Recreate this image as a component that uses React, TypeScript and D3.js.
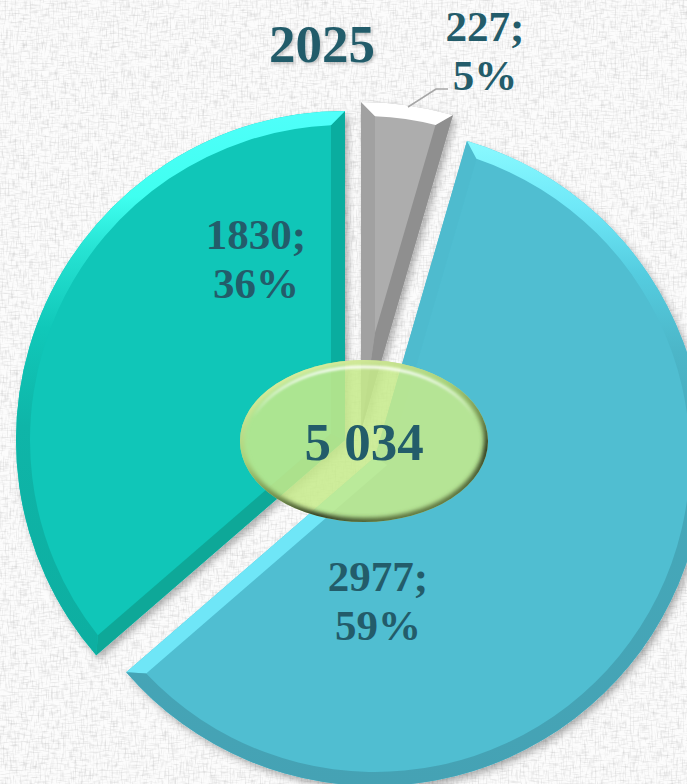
import React from "react";
import * as d3 from "d3";

const W = 687;
const H = 784;
const categories = ["gray", "blue", "teal"];
const values = [227, 2977, 1830];
const percents = ["5%", "59%", "36%"];
const title = "2025";
const total = "5 034";

const R = 329;
const BEVEL = 14;
const apexes = [[361, 431], [375, 457], [345, 440]];
const labelPos = [[485, 41], [378, 591], [256, 249]];
const LINE = 49;
const INK = "#235c6a";

const styles: Record<string, { face: string; start: string; end: string; rim: [number, string][] }> = {
  gray: { face: "#adadad", start: "#a1a1a1", end: "#8f8f8f", rim: [[0, "#ffffff"], [1, "#ffffff"]] },
  blue: {
    face: "#50bed1",
    start: "#4ebbce",
    end: "#6fe6f7",
    rim: [[0.02, "#8afaff"], [0.12, "#6fe8f8"], [0.22, "#55cde0"], [0.34, "#4cb6c8"], [0.5, "#45a9ba"], [1, "#45a2b4"]],
  },
  teal: {
    face: "#10c6b8",
    start: "#0ea898",
    end: "#0aad9f",
    rim: [[0, "#4ffffa"], [0.13, "#3ffff0"], [0.21, "#26e3d3"], [0.33, "#10c8b9"], [0.48, "#0fb5a8"], [1, "#0cab9d"]],
  },
};

const pie = d3.pie<number>().sort(null).startAngle(0).endAngle(2 * Math.PI);
const slices = pie(values);

function App() {
  const shapes = slices.map((s, i) => {
    const [cx, cy] = apexes[i];
    const pt = (r: number, a: number): [number, number] => [cx + r * Math.sin(a), cy - r * Math.cos(a)];
    const a0 = s.startAngle;
    const a1 = s.endAngle;
    const span = a1 - a0;
    const mid = (a0 + a1) / 2;
    const ri = R - BEVEL;
    const da = Math.asin(BEVEL / ri);
    const f0 = a0 + da;
    const f1 = a1 - da;
    const ins = pt(BEVEL / Math.sin(span / 2), mid);
    const poly = (ps: [number, number][]) => {
      const p = d3.path();
      ps.forEach((q, k) => (k ? p.lineTo(q[0], q[1]) : p.moveTo(q[0], q[1])));
      p.closePath();
      return p.toString();
    };
    const wedge = d3.path();
    wedge.moveTo(cx, cy);
    wedge.lineTo(...pt(R, a0));
    wedge.arc(cx, cy, R, a0 - Math.PI / 2, a1 - Math.PI / 2);
    wedge.closePath();
    const face = d3.path();
    face.moveTo(ins[0], ins[1]);
    face.lineTo(...pt(ri, f0));
    face.arc(cx, cy, ri, f0 - Math.PI / 2, f1 - Math.PI / 2);
    face.closePath();
    const rim = d3.path();
    rim.moveTo(...pt(R, a0));
    rim.arc(cx, cy, R, a0 - Math.PI / 2, a1 - Math.PI / 2);
    rim.lineTo(...pt(ri, f1));
    rim.arc(cx, cy, ri, f1 - Math.PI / 2, f0 - Math.PI / 2, true);
    rim.closePath();
    return {
      key: categories[i],
      wedge: wedge.toString(),
      face: face.toString(),
      rim: rim.toString(),
      startEdge: poly([pt(0, 0), pt(R, a0), pt(ri, f0), ins]),
      endEdge: poly([pt(0, 0), pt(R, a1), pt(ri, f1), ins]),
      cy,
    };
  });

  const [ex, ey] = [364, 441];
  const [erx, ery] = [124, 81];

  return (
    <svg
      width={W}
      height={H}
      viewBox={`0 0 ${W} ${H}`}
      style={{ position: "fixed", left: 0, top: 0, display: "block" }}
      fontFamily="'Liberation Serif', serif"
      fontWeight="bold"
    >
      <defs>
        <filter id="linenA" x="0" y="0" width="100%" height="100%">
          <feTurbulence type="fractalNoise" baseFrequency="0.6 0.1" numOctaves={2} seed={4} />
          <feColorMatrix type="matrix" values="0 0 0 0 0.45  0 0 0 0 0.45  0 0 0 0 0.45  2.4 0 0 0 -1.15" />
        </filter>
        <filter id="linenB" x="0" y="0" width="100%" height="100%">
          <feTurbulence type="fractalNoise" baseFrequency="0.1 0.6" numOctaves={2} seed={9} />
          <feColorMatrix type="matrix" values="0 0 0 0 0.45  0 0 0 0 0.45  0 0 0 0 0.45  2.4 0 0 0 -1.15" />
        </filter>
        <filter id="shadow" x="-10%" y="-10%" width="120%" height="120%">
          <feDropShadow dx="3" dy="4" stdDeviation="3.5" floodColor="#000" floodOpacity="0.3" />
        </filter>
        <filter id="textShadow" x="-10%" y="-10%" width="120%" height="130%">
          <feDropShadow dx="1.5" dy="2" stdDeviation="1.5" floodColor="#000" floodOpacity="0.22" />
        </filter>
        <filter id="soft" x="-10%" y="-10%" width="120%" height="120%">
          <feGaussianBlur stdDeviation="2" />
        </filter>
        <filter id="softer" x="-10%" y="-10%" width="120%" height="120%">
          <feGaussianBlur stdDeviation="1" />
        </filter>
        {shapes.map((s) => (
          <linearGradient
            key={s.key}
            id={`rim-${s.key}`}
            gradientUnits="userSpaceOnUse"
            x1="0"
            y1={s.cy - R}
            x2="0"
            y2={s.cy + R}
          >
            {styles[s.key].rim.map(([o, c]) => (
              <stop key={o} offset={o} stopColor={c} />
            ))}
          </linearGradient>
        ))}
        <linearGradient id="ringGrad" x1="0.15" y1="0" x2="0.75" y2="1">
          <stop offset="0" stopColor="#e8f5a8" />
          <stop offset="0.4" stopColor="#a8cf78" />
          <stop offset="0.62" stopColor="#6f8a4a" />
          <stop offset="0.78" stopColor="#2f3a20" />
          <stop offset="1" stopColor="#6f8a4a" />
        </linearGradient>
        <linearGradient id="glossGrad" x1="0" y1="0" x2="0" y2="1">
          <stop offset="0" stopColor="#ffffff" stopOpacity="0.85" />
          <stop offset="0.35" stopColor="#ffffff" stopOpacity="0" />
        </linearGradient>
        <clipPath id="eggClip">
          <ellipse cx={ex} cy={ey} rx={erx} ry={ery} />
        </clipPath>
      </defs>

      <rect width={W} height={H} fill="#fcfcfc" />
      <rect width={W} height={H} filter="url(#linenA)" opacity={0.36} />
      <rect width={W} height={H} filter="url(#linenB)" opacity={0.36} />

      {shapes.map((s) => (
        <g key={s.key}>
          <path d={s.wedge} fill={styles[s.key].face} filter="url(#shadow)" />
          <path d={s.face} fill={styles[s.key].face} />
          <path d={s.startEdge} fill={styles[s.key].start} />
          <path d={s.endEdge} fill={styles[s.key].end} />
          <path d={s.rim} fill={`url(#rim-${s.key})`} />
        </g>
      ))}

      <polyline points="408,107 436,89 448,89" fill="none" stroke="#a6a6a6" strokeWidth={1.5} />

      <g>
        <ellipse cx={ex} cy={ey} rx={erx} ry={ery} fill="#c6ea8a" fillOpacity={0.86} />
        <g clipPath="url(#eggClip)">
          <ellipse
            cx={ex}
            cy={ey}
            rx={erx}
            ry={ery}
            fill="none"
            stroke="url(#ringGrad)"
            strokeWidth={8}
            filter="url(#soft)"
          />
          <ellipse
            cx={ex}
            cy={ey - 1}
            rx={erx - 8}
            ry={ery - 8}
            fill="none"
            stroke="url(#glossGrad)"
            strokeWidth={3}
            filter="url(#softer)"
          />
        </g>
      </g>

      <text x={322} y={62} textAnchor="middle" fontSize={53} fill={INK} filter="url(#textShadow)">
        {title}
      </text>
      {slices.map((s, i) => (
        <text key={categories[i]} textAnchor="middle" fontSize={43} fill={INK}>
          <tspan x={labelPos[i][0]} y={labelPos[i][1]}>{`${s.data};`}</tspan>
          <tspan x={labelPos[i][0]} y={labelPos[i][1] + LINE}>{percents[i]}</tspan>
        </text>
      ))}
      <text x={364} y={460} textAnchor="middle" fontSize={53} fill={INK}>
        {total}
      </text>
    </svg>
  );
}

export default App;
